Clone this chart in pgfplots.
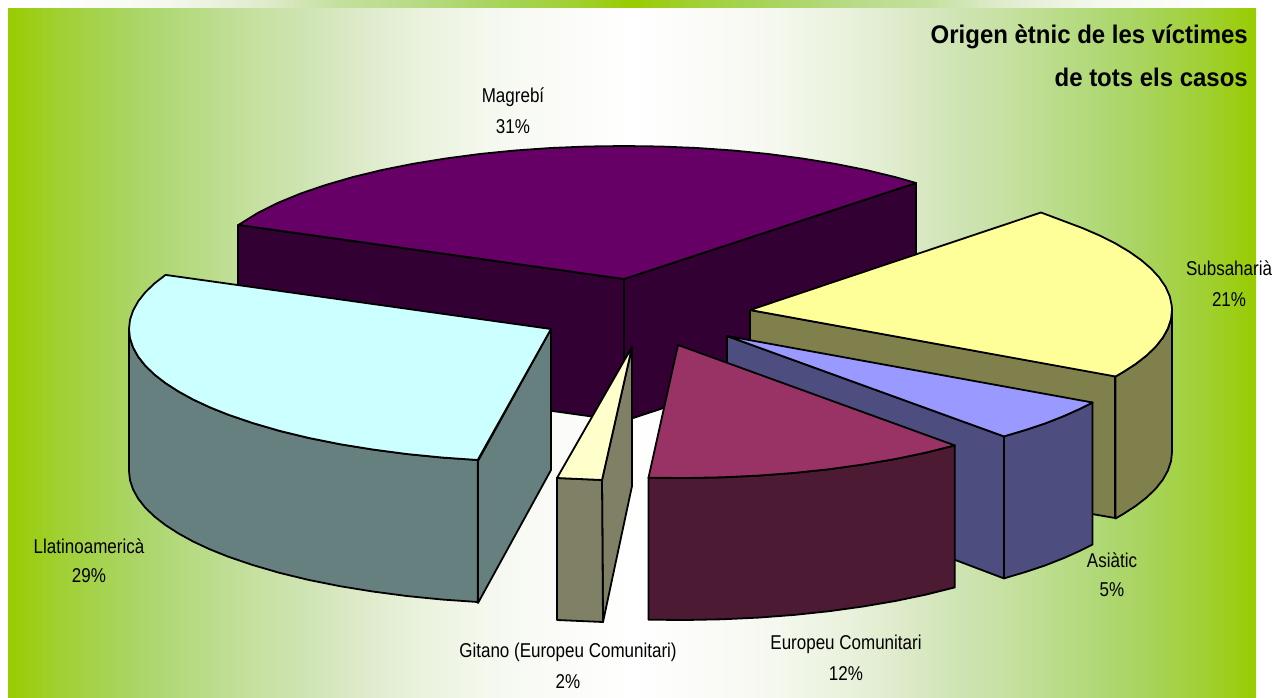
\documentclass[border=0pt]{standalone}
\usepackage{fontspec}
\setmainfont{Liberation Sans}
\newfontfamily\lab[FakeStretch=0.85]{Liberation Sans}
\newfontfamily\ttl[FakeStretch=0.94]{Liberation Sans Bold}
\usepackage{pgfplots}
\pgfplotsset{compat=1.18}
\definecolor{g0}{HTML}{99CC00}
\definecolor{g1}{HTML}{A0D033}
\definecolor{g2}{HTML}{A9D45F}
\definecolor{g3}{HTML}{AFD875}
\definecolor{g4}{HTML}{B9DC88}
\definecolor{g5}{HTML}{C5E09F}
\definecolor{g6}{HTML}{D0E4B5}
\definecolor{g7}{HTML}{DFEBCC}
\definecolor{g8}{HTML}{EBF3DF}
\definecolor{g9}{HTML}{F5F8EF}
\definecolor{g10}{HTML}{FAFBF7}
\pgfdeclarehorizontalshading{panelshade}{100bp}{
 color(0bp)=(g0); color(25bp)=(g0); color(27.1bp)=(g1); color(29.6bp)=(g2); color(31.2bp)=(g3);
 color(32.9bp)=(g4); color(34.8bp)=(g5); color(37.1bp)=(g6); color(39.4bp)=(g7);
 color(41.9bp)=(g8); color(44.3bp)=(g9); color(46.8bp)=(g10); color(50bp)=(white);
 color(53.2bp)=(g10); color(55.7bp)=(g9); color(58.1bp)=(g8); color(60.6bp)=(g7);
 color(62.9bp)=(g6); color(65.2bp)=(g5); color(67.1bp)=(g4); color(68.8bp)=(g3);
 color(70.4bp)=(g2); color(72.9bp)=(g1); color(75bp)=(g0); color(100bp)=(g0)}
\pgfdeclarehorizontalshading{stripshade}{100bp}{
 color(0bp)=(white); color(25bp)=(white); color(26.3bp)=(white); color(31.2bp)=(g9); color(35.3bp)=(g7);
 color(38.1bp)=(g5); color(41bp)=(g4); color(44.3bp)=(g2); color(47.6bp)=(g1); color(50bp)=(g0);
 color(52.4bp)=(g1); color(55.7bp)=(g2); color(59bp)=(g4); color(61.9bp)=(g5); color(64.7bp)=(g7);
 color(68.8bp)=(g9); color(73.7bp)=(white); color(75bp)=(white); color(100bp)=(white)}
\definecolor{mT}{HTML}{660066}\definecolor{mW}{HTML}{330033}
\definecolor{lT}{HTML}{CCFFFF}\definecolor{lW}{HTML}{668080}
\definecolor{gT}{HTML}{FFFFCC}\definecolor{gW}{HTML}{808066}
\definecolor{eT}{HTML}{993366}\definecolor{eW}{HTML}{4D1A33}
\definecolor{aT}{HTML}{9999FF}\definecolor{aW}{HTML}{4D4D80}
\definecolor{sT}{HTML}{FFFF99}\definecolor{sW}{HTML}{80804D}
\newcommand\lb[1]{{\lab\fontsize{20}{22}\selectfont #1}}
\newcommand\tl[1]{{\ttl\fontsize{25.5}{28}\selectfont #1}}
\begin{document}
\begin{tikzpicture}
\begin{axis}[
  width=1287pt,height=698pt,scale only axis,
  xmin=0,xmax=1287,ymin=0,ymax=698,y dir=reverse,
  hide axis,clip=true,
  every axis plot/.append style={line width=1.8pt,line join=round},
]
% background
\addplot[fill=white,draw=none] coordinates {(0,0)(1287,0)(1287,698)(0,698)} --cycle;
\addplot[draw=none,shade,shading=panelshade] coordinates {(8,8)(1256,8)(1256,698)(8,698)} --cycle;
\addplot[draw=none,shade,shading=stripshade] coordinates {(8,0)(1256,0)(1256,8)(8,8)} --cycle;
% Magrebi
\addplot[fill=mW,draw=black] coordinates {(238,225)(624,279)(624,421)(238,367)} --cycle;
\addplot[fill=mW,draw=black] coordinates {(624,279)(916,183)(916,325)(624,421)} --cycle;
\addplot[fill=mT,draw=black] coordinates {(238.5,224.9)(258.5,212.5)(278.3,202.7)(300.7,193.5)(325.6,185)(352.7,177.1)(382,170)(413,163.8)(445.7,158.5)(479.7,154)(514.8,150.5)(550.7,148)(587.2,146.5)(624,146)(660.8,146.5)(697.3,148)(733.2,150.5)(768.3,154)(802.3,158.5)(835,163.8)(866,170)(895.3,177.1)(916,183)(624,279)} --cycle;
% Subsaharia
\addplot[fill=sW,draw=black] coordinates {(750,310)(1115,376)(1115,518)(1092,514)(750,452)} --cycle;
\addplot[fill=sW,draw=black] coordinates {(1115.5,376.5)(1122.6,372.4)(1135.5,364.1)(1146.6,355.5)(1155.7,346.7)(1162.8,337.7)(1167.9,328.5)(1171,319.3)(1172,310)(1172,452)(1171,461.3)(1167.9,470.5)(1162.8,479.7)(1155.7,488.7)(1146.6,497.5)(1135.5,506.1)(1122.6,514.4)(1115.5,518.5)} --cycle;
\addplot[fill=sT,draw=black] coordinates {(750,310)(1041,212.5)(1063.6,221)(1082.5,228.1)(1099.8,235.6)(1115.5,243.5)(1129.3,251.7)(1141.3,260.2)(1151.4,268.9)(1159.5,277.8)(1165.6,286.9)(1169.7,296.1)(1171.7,305.4)(1172,310)(1171,319.3)(1167.9,328.5)(1162.8,337.7)(1155.7,346.7)(1146.6,355.5)(1135.5,364.1)(1122.6,372.4)(1115.5,376.5)} --cycle;
% Asiatic
\addplot[fill=aW,draw=black] coordinates {(727,336)(1003.9,436.4)(1003.9,578.4)(950,558)(727,478)} --cycle;
\addplot[fill=aW,draw=black] coordinates {(1003.9,436.4)(1025.4,430)(1045.5,423.3)(1064,416)(1080.9,408.4)(1092.5,402.5)(1092.5,544.5)(1080.9,550.4)(1064,558)(1045.5,565.3)(1025.4,572)(1003.9,578.4)} --cycle;
\addplot[fill=aT,draw=black] coordinates {(727,336)(1092.5,402.5)(1080.9,408.4)(1064,416)(1045.5,423.3)(1025.4,430)(1003.9,436.4)} --cycle;
% Europeu
\addplot[fill=eW,draw=black] coordinates {(954.8,445.4)(926,452.6)(895.3,459)(863,464.5)(829.2,469.2)(794.3,472.9)(758.5,475.6)(722.1,477.3)(685.4,478)(648.5,477.7)(648.5,619.7)(685.4,620)(722.1,619.3)(758.5,617.6)(794.3,614.9)(829.2,611.2)(863,606.5)(895.3,601)(926,594.6)(954.8,587.4)} --cycle;
\addplot[fill=eT,draw=black] coordinates {(678,345)(954.8,445.4)(926,452.6)(895.3,459)(863,464.5)(829.2,469.2)(794.3,472.9)(758.5,475.6)(722.1,477.3)(685.4,478)(648.5,477.7)} --cycle;
% Llatinoamerica
\addplot[fill=lW,draw=black] coordinates {(478,461)(551,329)(551,470)(478,603)} --cycle;
\addplot[fill=lW,draw=black] coordinates {(129,329)(130,338.3)(133.1,347.5)(138.2,356.7)(145.3,365.7)(154.4,374.5)(165.5,383.1)(178.4,391.4)(193.1,399.5)(209.6,407.2)(227.7,414.5)(252.6,423)(279.7,430.9)(309,438)(340,444.2)(372.7,449.5)(406.7,454)(441.8,457.5)(477.7,460)(477.7,602)(441.8,599.5)(406.7,596)(372.7,591.5)(340,586.2)(309,580)(279.7,572.9)(252.6,565)(227.7,556.5)(209.6,549.2)(193.1,541.5)(178.4,533.4)(165.5,525.1)(154.4,516.5)(145.3,507.7)(138.2,498.7)(133.1,489.5)(130,480.3)(129,471)} --cycle;
\addplot[fill=lT,draw=black] coordinates {(165.5,274.9)(551,329)(477.7,460)(441.8,457.5)(406.7,454)(372.7,449.5)(340,444.2)(309,438)(279.7,430.9)(252.6,423)(227.7,414.5)(209.6,407.2)(193.1,399.5)(178.4,391.4)(165.5,383.1)(154.4,374.5)(145.3,365.7)(138.2,356.7)(133.1,347.5)(130,338.3)(129,329)(130,319.7)(133.1,310.5)(138.2,301.3)(145.3,292.3)(154.4,283.5)} --cycle;
% Gitano
\addplot[fill=gW,draw=black] coordinates {(602,480)(632,347)(632,486)(603,622)} --cycle;
\addplot[fill=gW,draw=black] coordinates {(557,478)(602,480)(603,622)(557,620)} --cycle;
\addplot[fill=gT,draw=black] coordinates {(632,347)(602,480)(557,478)} --cycle;
% labels
\node at (axis cs:513,97) {\lb{Magrebí}};
\node at (axis cs:513,127) {\lb{31\%}};
\node at (axis cs:1229,268) {\lb{Subsaharià}};
\node at (axis cs:1229,300) {\lb{21\%}};
\node at (axis cs:89,546) {\lb{Llatinoamericà}};
\node at (axis cs:89,576) {\lb{29\%}};
\node at (axis cs:568,652) {\lb{Gitano (Europeu Comunitari)}};
\node at (axis cs:568,682) {\lb{2\%}};
\node at (axis cs:846,644) {\lb{Europeu Comunitari}};
\node at (axis cs:846,674) {\lb{12\%}};
\node at (axis cs:1112,560) {\lb{Asiàtic}};
\node at (axis cs:1112,590) {\lb{5\%}};
\node[anchor=east,inner sep=0pt] at (axis cs:1248,37) {\tl{Origen ètnic de les víctimes}};
\node[anchor=east,inner sep=0pt] at (axis cs:1248,77) {\tl{de tots els casos}};
\end{axis}
\end{tikzpicture}
\end{document}
